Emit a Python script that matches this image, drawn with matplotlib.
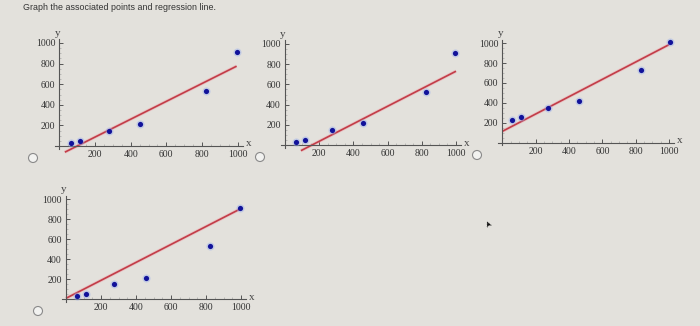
import numpy as np
import matplotlib.pyplot as plt
from matplotlib.ticker import FixedLocator
from matplotlib.patches import Ellipse

# sample points shared by three of the answer choices
pts_x = [65, 115, 277, 455, 825, 995]
pts_y = [30, 53, 150, 218, 530, 910]

# choice C uses shifted points
pts_x_c = [60, 112, 276, 458, 834, 1005]
pts_y_c = [231, 255, 345, 416, 734, 1010]

# line endpoints drawn in each choice
lines = [
    ([30, 995], [-60, 775]),
    ([93, 1000], [-53, 730]),
    ([0, 1000], [115, 985]),
    ([0, 995], [10, 903]),
]

tick_vals = [200, 400, 600, 800, 1000]
minor_vals = [v for v in range(50, 1001, 50) if v % 200]

W, H = 700, 326
bg = '#e3e1dc'
fig = plt.figure(figsize=(W / 100, H / 100), dpi=100, facecolor=bg)

xlim = (-40, 1080)
ylim = (-90, 1100)


def place(x0, y0, sx, sy):
    # x0, y0: pixel position of the origin; sx, sy: pixels per 200 units
    kx, ky = sx / 200, sy / 200
    left = x0 + xlim[0] * kx
    right = x0 + xlim[1] * kx
    top = y0 - ylim[1] * ky
    bottom = y0 - ylim[0] * ky
    return fig.add_axes([left / W, 1 - bottom / H, (right - left) / W, (bottom - top) / H])


def draw(ax, xs, ys, line):
    ax.set_facecolor('none')
    ax.set_xlim(*xlim)
    ax.set_ylim(*ylim)
    for s in ['top', 'right']:
        ax.spines[s].set_visible(False)
    ax.spines['left'].set_position(('data', 0))
    ax.spines['bottom'].set_position(('data', 0))
    ax.spines['left'].set_bounds(-25, 1035)
    ax.spines['bottom'].set_bounds(-25, 1030)
    for s in ['left', 'bottom']:
        ax.spines[s].set_color('#555555')
        ax.spines[s].set_linewidth(0.8)
    ax.set_xticks(tick_vals)
    ax.set_yticks(tick_vals)
    ax.xaxis.set_minor_locator(FixedLocator(minor_vals))
    ax.yaxis.set_minor_locator(FixedLocator(minor_vals))
    ax.tick_params(which='major', direction='in', length=3, width=0.7, color='#555555',
                   labelsize=7, labelcolor='#333333', pad=3)
    ax.tick_params(which='minor', direction='in', length=1.3, width=0.4, color='#9a9a9a')
    for lab in ax.get_xticklabels() + ax.get_yticklabels():
        lab.set_family('Liberation Serif')
    ax.text(-12, 1050, 'y', family='Liberation Serif', fontsize=8, color='#444444',
            ha='center', va='bottom')
    ax.text(1045, 20, 'x', family='Liberation Serif', fontsize=8, color='#444444',
            ha='left', va='center')

    lx, ly = line
    ax.plot(lx, ly, color='#f0a0a8', lw=2.4, alpha=0.45, solid_capstyle='butt')
    ax.plot(lx, ly, color='#c23d48', lw=1.2, solid_capstyle='butt')
    ax.scatter(xs, ys, s=34, color='#8fa8f0', alpha=0.4, lw=0, zorder=3)
    ax.scatter(xs, ys, s=14, color='#12129a', lw=0, zorder=4)


axes = [
    place(59.5, 146, 35.6, 20.6),
    place(285, 145.3, 34.2, 20.3),
    place(502.5, 142.7, 33.3, 19.9),
    place(66, 299.3, 35, 20),
]
data = [(pts_x, pts_y), (pts_x, pts_y), (pts_x_c, pts_y_c), (pts_x, pts_y)]
for ax, (xs, ys), line in zip(axes, data, lines):
    draw(ax, xs, ys, line)

# question text
fig.text(23 / W, 1 - 8 / H, 'Graph the associated points and regression line.',
         family='Liberation Sans', fontsize=6.4, color='#333333', ha='left', va='center')

# radio buttons for the answer choices
for cx, cy in [(33, 158), (260, 157), (477, 155), (38, 311)]:
    fig.patches.append(Ellipse((cx / W, 1 - cy / H), 9 / W, 9 / H, transform=fig.transFigure,
                               facecolor='#f2f2f0', edgecolor='#8a8a8a', lw=0.8))

# mouse pointer
fig.text(488 / W, 1 - 223 / H, '\u27a4', fontsize=6, color='#111111', rotation=115,
         ha='center', va='center', family='DejaVu Sans')

fig.savefig('out.png', dpi=100, facecolor=bg)
